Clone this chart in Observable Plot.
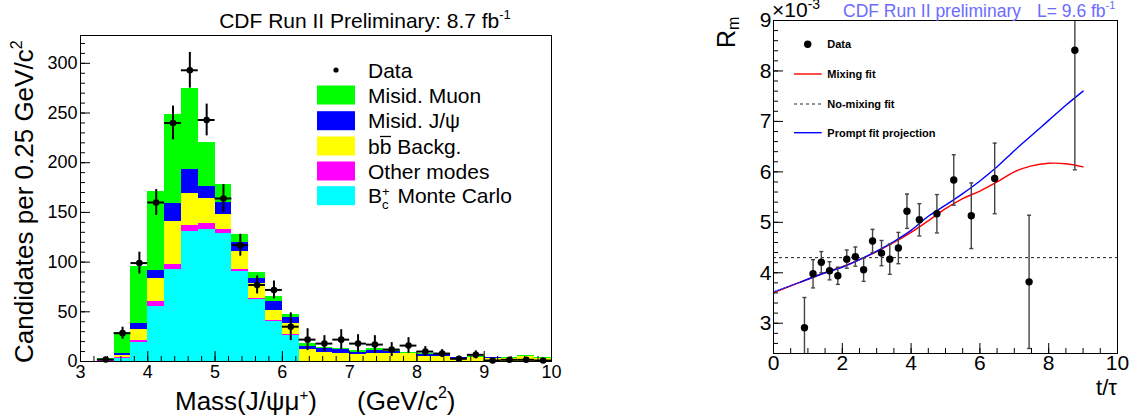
<!DOCTYPE html>
<html><head><meta charset="utf-8">
<script src="https://cdn.jsdelivr.net/npm/d3@7"></script>
<script src="https://cdn.jsdelivr.net/npm/@observablehq/plot@0.6"></script>
<style>
body{margin:0;background:#fff;}
#root{position:relative;width:1131px;height:418px;overflow:hidden;background:#fff;}
.panel{position:absolute;top:0;}
svg{overflow:visible;}
</style></head><body><div id="root"><div id="left" class="panel" style="left:0px"></div><div id="right" class="panel" style="left:700px"></div></div>
<script>
// ---------- Left panel data: J/psi mu mass histogram ----------
const massBinStart = [3.00,3.25,3.50,3.75,4.00,4.25,4.50,4.75,5.00,5.25,5.50,5.75,6.00,6.25,6.50,6.75,7.00,7.25,7.50,7.75,8.00,8.25,8.50,8.75,9.00,9.25,9.50,9.75];
const binWidth = 0.25;
const bcMonteCarlo = [0,0.5,3,19,55,93,131,133,129,91,62,40.5,26.5,0.5,0,0,0,0,0,0,0,0,0,0,0,0,0,0];
const otherModes   = [0,0.3,1,2,5,5,6,6,4,2,1,0.5,0.5,0,0,0,0,0,0,0,0,0,0,0,0,0,0,0];
const bbBackground = [0,0.4,2,11,24,43,32,25,15,18,15,10,11.5,11.2,8.7,8.4,6.7,7.7,7.7,7.7,5,5,3.4,4,3.4,2.7,5.4,2.7];
const misidJpsi    = [0,1.3,2.5,6,8,18,24,12,12,8.5,6,9,5.5,3.7,4.1,3.3,2.3,3.3,2.3,0.7,1.7,1.7,0.2,0.3,0.2,0.3,0.1,0.3];
const misidMuon    = [0,0.5,20.5,58,79,90,82,44,18.5,8.5,6,5.5,3.7,3.1,1.6,1.7,2,1.7,1.7,1,1,1,0.8,0.7,0.8,0.7,0.3,0.7];
const componentNames = ["B_c Monte Carlo","Other modes","bb Backg.","Misid. J/psi","Misid. Muon"];
const componentColors = ["#00ffff","#ff00ff","#ffff00","#0000ff","#00ff00"];

const dataMass   = [3.375,3.625,3.875,4.125,4.375,4.625,4.875,5.125,5.375,5.625,5.875,6.125,6.375,6.625,6.875,7.125,7.375,7.625,7.875,8.125,8.375,8.625,8.875,9.125,9.375,9.625,9.875];
const dataCounts = [2,28.5,99,160,240,293,243,164,117,77,72,35,22,18,22,18,17,12,16,10,8,2.7,6.7,1,1.7,1.7,1];
const dataErr    = [1.5,6,11,13,17,18,16,14,11,9,9,14,11,8,10,9,9,7,8,5,4,2.5,4,2,2,2,1.5];

const leftXTicks = [3,4,5,6,7,8,9,10];
const leftYTicks = [0,50,100,150,200,250,300];
const leftXDomain = [3,10];
const leftYDomain = [0,328];

// ---------- Right panel data: R_m vs t/tau ----------
const tTau  = [0.90,1.15,1.39,1.63,1.87,2.13,2.38,2.62,2.88,3.14,3.38,3.63,3.88,4.24,4.75,5.24,5.75,6.43,7.43,8.76];
const rm    = [2.91,3.98,4.21,4.04,3.94,4.27,4.32,4.06,4.63,4.39,4.27,4.49,5.22,5.05,5.17,5.84,5.13,5.87,3.82,8.41];
const rmErr = [0.60,0.28,0.21,0.18,0.17,0.18,0.19,0.23,0.23,0.25,0.30,0.31,0.34,0.32,0.38,0.50,0.65,0.70,1.32,2.37];

const fitT      = [0.8,1.5,2.0,2.5,3.0,3.5,4.0,4.5,5.0,5.5,6.0,6.5,7.0,7.5,8.0,8.5,9.0];
const mixingFit = [3.82,4.00,4.12,4.26,4.42,4.60,4.80,5.03,5.27,5.47,5.62,5.80,6.00,6.12,6.17,6.16,6.10];
const promptFit = [3.82,4.00,4.11,4.26,4.43,4.62,4.84,5.12,5.34,5.57,5.82,6.10,6.42,6.72,7.02,7.32,7.60];
const extrapT   = [0,0.4,0.8];
const extrapMix = [3.60,3.71,3.82];
const extrapPrompt = [3.62,3.72,3.82];
const noMixingLevel = 4.30;

const rightXTicks = [0,2,4,6,8,10];
const rightYTicks = [3,4,5,6,7,8,9];
const rightXDomain = [0,10];
const rightYDomain = [2.4,9];

const FONT = "'Liberation Sans', Arial, Helvetica, sans-serif";

// ---------- build left ----------
const stackRows = [];
massBinStart.forEach((x0, i) => {
  const comps = [bcMonteCarlo[i], otherModes[i], bbBackground[i], misidJpsi[i], misidMuon[i]];
  let base = 0;
  comps.forEach((v, k) => {
    if (v > 0) stackRows.push({x1: x0, x2: x0 + binWidth, y1: base, y2: base + v, comp: componentNames[k]});
    base += v;
  });
});
const dataRows = dataMass.map((m, i) => ({m, c: dataCounts[i], e: dataErr[i]}));

const LW = 565, LH = 418, LMT = 35, LMB = 57, LML = 80, LMR = 14;
const lFrameH = LH - LMT - LMB, lFrameW = LW - LML - LMR;
const leftMinorX = d3.range(3, 10.0001, 0.2).map(v => +v.toFixed(2));
const leftMinorY = d3.range(0, 328, 10);

const left = Plot.plot({
  width: LW, height: LH,
  marginTop: LMT, marginBottom: LMB, marginLeft: LML, marginRight: LMR,
  style: {fontFamily: FONT, background: "transparent", overflow: "visible"},
  x: {domain: leftXDomain, axis: null},
  y: {domain: leftYDomain, axis: null},
  color: {domain: componentNames, range: componentColors},
  marks: [
    Plot.rect(stackRows, {x1: "x1", x2: "x2", y1: "y1", y2: "y2", fill: "comp", shapeRendering: "crispEdges"}),
    Plot.ruleX(dataRows, {x: "m", y1: d => Math.max(0, d.c - d.e), y2: d => d.c + d.e, stroke: "#000", strokeWidth: 2}),
    Plot.ruleY(dataRows, {y: "c", x1: d => d.m - binWidth / 2, x2: d => d.m + binWidth / 2, stroke: "#000", strokeWidth: 2}),
    Plot.dot(dataRows, {x: "m", y: "c", r: 3.3, fill: "#000", stroke: "none"}),
    Plot.tickX(leftMinorX, {x: d => d, stroke: "#000", insetTop: lFrameH - 5}),
    Plot.tickX(leftXTicks, {x: d => d, stroke: "#000", insetTop: lFrameH - 10}),
    Plot.tickY(leftMinorY, {y: d => d, stroke: "#000", insetRight: lFrameW - 5}),
    Plot.tickY(leftYTicks, {y: d => d, stroke: "#000", insetRight: lFrameW - 10}),
    Plot.frame({stroke: "#000", strokeWidth: 1}),
    Plot.text(leftXTicks, {x: d => d, frameAnchor: "bottom", dy: 16, text: d => String(d), fontSize: 18, fill: "#000"}),
    Plot.text(leftYTicks, {y: d => d, frameAnchor: "left", dx: -3, textAnchor: "end", text: d => String(d), fontSize: 18, fill: "#000"})
  ]
});
document.getElementById("left").appendChild(left);

// left extras: title, axis titles, legend
{
  const svg = d3.select(left);
  const g = svg.append("g").attr("font-family", FONT).attr("fill", "#000").attr("text-anchor", "start");
  // title
  const t = g.append("text").attr("x", 365).attr("y", 28).attr("text-anchor", "middle").attr("font-size", 21);
  t.append("tspan").text("CDF Run II Preliminary: 8.7 fb");
  t.append("tspan").attr("font-size", 13).attr("dy", -9).text("-1");
  // y title
  const yt = g.append("text").attr("transform", "translate(33,363) rotate(-90)").attr("font-size", 26);
  yt.append("tspan").text("Candidates per 0.25 GeV/c");
  yt.append("tspan").attr("font-size", 16).attr("dy", -11).text("2");
  // x title
  const xt = g.append("text").attr("x", 175).attr("y", 410).attr("font-size", 26);
  xt.append("tspan").text("Mass(J/ψμ");
  xt.append("tspan").attr("font-size", 15).attr("dy", -10).text("+");
  xt.append("tspan").attr("dy", 10).text(")");
  const xt2 = g.append("text").attr("x", 357).attr("y", 410).attr("font-size", 26);
  xt2.append("tspan").text("(GeV/c");
  xt2.append("tspan").attr("font-size", 16).attr("dy", -12).text("2");
  xt2.append("tspan").attr("dy", 12).text(")");
  // legend
  const rows = [70, 95, 120.7, 146, 171, 195.7];
  g.append("circle").attr("cx", 336).attr("cy", rows[0]).attr("r", 2.6).attr("fill", "#000");
  const legText = (y) => g.append("text").attr("x", 368).attr("y", y).attr("dy", "0.36em").attr("font-size", 21);
  legText(rows[0]).text("Data");
  const order = [4, 3, 2, 1, 0];
  order.forEach((k, j) => {
    g.append("rect").attr("x", 317).attr("y", rows[j + 1] - 9.5).attr("width", 38).attr("height", 19).attr("fill", componentColors[k]);
  });
  legText(rows[1]).text("Misid. Muon");
  legText(rows[2]).text("Misid. J/ψ");
  legText(rows[3]).text("bb Backg.");
  g.append("line").attr("x1", 380).attr("x2", 391).attr("y1", rows[3] - 9.5).attr("y2", rows[3] - 9.5).attr("stroke", "#000").attr("stroke-width", 1.3);
  legText(rows[4]).text("Other modes");
  const bc = legText(rows[5]);
  bc.append("tspan").text("B");
  bc.append("tspan").attr("font-size", 13).attr("dy", -7).text("+");
  bc.append("tspan").attr("font-size", 13).attr("dx", -7.5).attr("dy", 13).text("c");
  bc.append("tspan").attr("dy", -6).attr("dx", 3).text(" Monte Carlo");
}

// ---------- build right ----------
const RW = 431, RH = 418, RMT = 20, RMB = 65, RML = 73, RMR = 14;
const rFrameH = RH - RMT - RMB, rFrameW = RW - RML - RMR;
const rightMinorX = d3.range(0, 10.0001, 0.5);
const rightMinorY = d3.range(2.4, 9.0001, 0.2).map(v => +v.toFixed(2));
const pts = tTau.map((t, i) => ({t, r: rm[i], e: rmErr[i]}));
const clampY = v => Math.max(rightYDomain[0], Math.min(rightYDomain[1], v));
const mixRows = fitT.map((t, i) => ({t, v: mixingFit[i]}));
const promptRows = fitT.map((t, i) => ({t, v: promptFit[i]}));
const extMixRows = extrapT.map((t, i) => ({t, v: extrapMix[i]}));
const extPromptRows = extrapT.map((t, i) => ({t, v: extrapPrompt[i]}));
const capSymbol = {draw(ctx) { ctx.moveTo(-2, 0); ctx.lineTo(2, 0); }};
const capRows = pts.flatMap(d => [
  {t: d.t, y: d.r + d.e}, {t: d.t, y: d.r - d.e}
]).filter(d => d.y > rightYDomain[0] && d.y < rightYDomain[1]);

const right = Plot.plot({
  width: RW, height: RH,
  marginTop: RMT, marginBottom: RMB, marginLeft: RML, marginRight: RMR,
  style: {fontFamily: FONT, background: "transparent", overflow: "visible"},
  x: {domain: rightXDomain, axis: null},
  y: {domain: rightYDomain, axis: null},
  marks: [
    Plot.ruleY([noMixingLevel], {y: d => d, stroke: "#222", strokeWidth: 1, strokeDasharray: "3,3"}),
    Plot.line(extMixRows, {x: "t", y: "v", stroke: "#ff0000", strokeWidth: 1.3, strokeDasharray: "1.5,1.5"}),
    Plot.line(extPromptRows, {x: "t", y: "v", stroke: "#0000ff", strokeWidth: 1.3, strokeDasharray: "1.5,1.5", strokeDashoffset: 1.5}),
    Plot.line(mixRows, {x: "t", y: "v", stroke: "#ff0000", strokeWidth: 1.4, curve: "catmull-rom"}),
    Plot.line(promptRows, {x: "t", y: "v", stroke: "#0000ff", strokeWidth: 1.4, curve: "catmull-rom"}),
    Plot.ruleX(pts, {x: "t", y1: d => clampY(d.r - d.e), y2: d => clampY(d.r + d.e), stroke: "#444", strokeWidth: 1.4}),
    Plot.dot(capRows, {x: "t", y: "y", symbol: capSymbol, stroke: "#444", strokeWidth: 1.4, fill: "none"}),
    Plot.dot(pts, {x: "t", y: "r", r: 3.7, fill: "#000", stroke: "none"}),
    Plot.tickX(rightMinorX, {x: d => d, stroke: "#000", insetTop: rFrameH - 5}),
    Plot.tickX(rightXTicks, {x: d => d, stroke: "#000", insetTop: rFrameH - 10}),
    Plot.tickY(rightMinorY, {y: d => d, stroke: "#000", insetRight: rFrameW - 5}),
    Plot.tickY(rightYTicks, {y: d => d, stroke: "#000", insetRight: rFrameW - 10}),
    Plot.frame({stroke: "#000", strokeWidth: 1}),
    Plot.text(rightXTicks, {x: d => d, frameAnchor: "bottom", dy: 16, text: d => String(d), fontSize: 21, fill: "#000"}),
    Plot.text(rightYTicks, {y: d => d, frameAnchor: "left", dx: -2, textAnchor: "end", text: d => String(d), fontSize: 21, fill: "#000"})
  ]
});
document.getElementById("right").appendChild(right);

{
  const svg = d3.select(right);
  const g = svg.append("g").attr("font-family", FONT).attr("fill", "#000").attr("text-anchor", "start");
  const ex = g.append("text").attr("x", 72).attr("y", 17).attr("font-size", 21);
  ex.append("tspan").text("×10");
  ex.append("tspan").attr("font-size", 14).attr("dy", -8).text("-3");
  g.append("text").attr("x", 143).attr("y", 17).attr("font-size", 17.5).attr("fill", "#6b6bff").text("CDF Run II preliminary");
  const L = g.append("text").attr("x", 337).attr("y", 17).attr("font-size", 17.5).attr("fill", "#6b6bff");
  L.append("tspan").text("L= 9.6 fb");
  L.append("tspan").attr("font-size", 11).attr("dy", -8).text("-1");
  const R = g.append("text").attr("transform", "translate(35,48) rotate(-90)").attr("font-size", 25);
  R.append("tspan").text("R");
  R.append("tspan").attr("font-size", 16).attr("dy", 4).text("m");
  g.append("text").attr("x", 417).attr("y", 395).attr("text-anchor", "end").attr("font-size", 22).text("t/τ");
  // legend
  const lx = 127.3;
  g.append("circle").attr("cx", 107.7).attr("cy", 44.3).attr("r", 3.7).attr("fill", "#000");
  g.append("line").attr("x1", 94).attr("x2", 121.7).attr("y1", 74).attr("y2", 74).attr("stroke", "#ff0000").attr("stroke-width", 1.4);
  g.append("line").attr("x1", 94).attr("x2", 121.7).attr("y1", 104).attr("y2", 104).attr("stroke", "#222").attr("stroke-width", 1).attr("stroke-dasharray", "3,3");
  g.append("line").attr("x1", 94).attr("x2", 121.7).attr("y1", 132.7).attr("y2", 132.7).attr("stroke", "#0000ff").attr("stroke-width", 1.4);
  const lt = (y, s) => g.append("text").attr("x", lx).attr("y", y).attr("dy", "0.36em").attr("font-size", 11).attr("font-weight", "bold").text(s);
  lt(44.3, "Data"); lt(74, "Mixing fit"); lt(104, "No-mixing fit"); lt(132.7, "Prompt fit projection");
}
</script>
</body></html>
